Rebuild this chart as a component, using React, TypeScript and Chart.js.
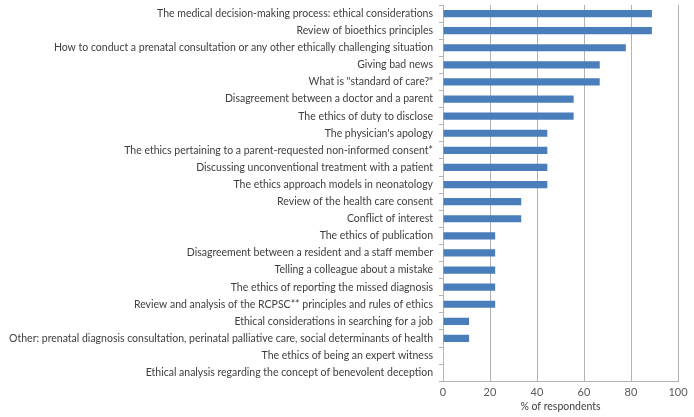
import React, { useEffect, useRef } from "react";
import { Chart, registerables } from "chart.js";
Chart.register(...registerables);

const categories = [
  "The medical decision-making process: ethical considerations",
  "Review of bioethics principles",
  "How to conduct a prenatal consultation or any other ethically challenging situation",
  "Giving bad news",
  'What is "standard of care?"',
  "Disagreement between a doctor and a parent",
  "The ethics of duty to disclose",
  "The physician's apology",
  "The ethics pertaining to a parent-requested non-informed consent*",
  "Discussing unconventional treatment with a patient",
  "The ethics approach models in neonatology",
  "Review of the health care consent",
  "Conflict of interest",
  "The ethics of publication",
  "Disagreement between a resident and a staff member",
  "Telling a colleague about a mistake",
  "The ethics of reporting the missed diagnosis",
  "Review and analysis of the RCPSC** principles and rules of ethics",
  "Ethical considerations in searching for a job",
  "Other: prenatal diagnosis consultation, perinatal palliative care, social determinants of health",
  "The ethics of being an expert witness",
  "Ethical analysis regarding the concept of benevolent deception",
];

const values = [
  88.9, 88.9, 77.8, 66.7, 66.7, 55.6, 55.6, 44.4, 44.4, 44.4, 44.4, 33.3, 33.3,
  22.2, 22.2, 22.2, 22.2, 22.2, 11.1, 11.1, 0, 0,
];

const xTitle = "% of respondents";

export default function App() {
  const ref = useRef<HTMLCanvasElement>(null);
  useEffect(() => {
    document.body.style.margin = "0";
    const font = { family: "Lato", size: 10.5 };
    const chart = new Chart(ref.current!, {
      type: "bar",
      data: {
        labels: categories,
        datasets: [
          {
            data: values,
            backgroundColor: "#4a7ebb",
            borderColor: "#4a7ebb",
            borderWidth: 0,
            barPercentage: 0.42,
            categoryPercentage: 1,
          },
        ],
      },
      options: {
        indexAxis: "y",
        animation: false,
        responsive: false,
        layout: { padding: { top: 5, right: 16, left: 0, bottom: 4 } },
        plugins: { legend: { display: false }, tooltip: { enabled: false } },
        scales: {
          x: {
            min: 0,
            max: 100,
            ticks: { stepSize: 20, color: "#595959", font: { family: "Lato", size: 11 }, padding: 5 },
            grid: { color: "#b3b3b3", drawTicks: false, lineWidth: 1 },
            border: { color: "#b3b3b3" },
            title: { display: true, text: xTitle, color: "#404040", font, padding: { top: -4, bottom: 0 } },
          },
          y: {
            afterFit: (scale: any) => {
              scale.width = 443;
              scale.paddingTop = 0;
              scale.paddingBottom = 0;
            },
            ticks: { color: "#404040", font, padding: 6, autoSkip: false },
            grid: { offset: true, drawOnChartArea: false, tickLength: 4, color: "#b3b3b3" },
            border: { color: "#b3b3b3" },
          },
        },
      },
    });
    return () => chart.destroy();
  }, []);
  return <canvas ref={ref} width={694} height={417} style={{ display: "block" }} />;
}
